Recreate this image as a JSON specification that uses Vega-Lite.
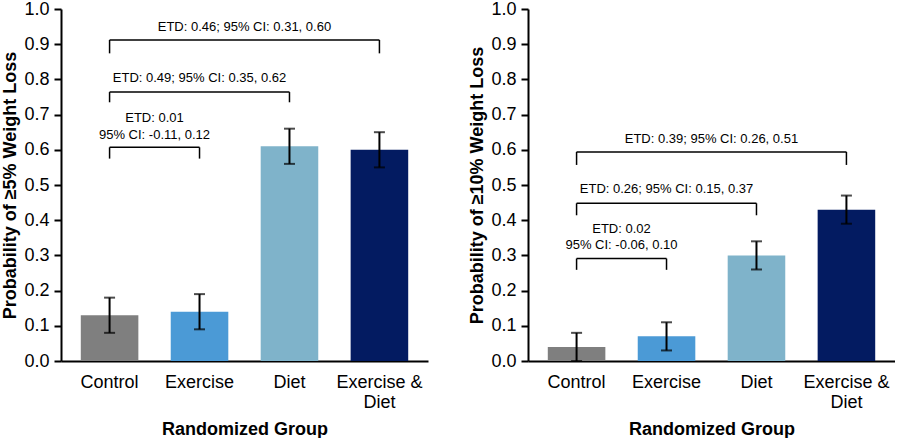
{
  "$schema": "https://vega.github.io/schema/vega-lite/v6.json",
  "background": "white",
  "padding": {"left": 1, "top": 0, "right": 0, "bottom": 0},
  "config": {
    "font": "Liberation Sans",
    "view": {"stroke": null},
    "axis": {"grid": false, "domainColor": "black", "domainWidth": 2, "tickColor": "black", "tickWidth": 2, "labelColor": "black", "titleColor": "black", "labelFontSize": 18, "titleFontSize": 18, "titleFontWeight": "bold", "labelFont": "Liberation Sans", "titleFont": "Liberation Sans", "labelOverlap": false, "labelFlush": false},
    "axisY": {"format": ".1f", "tickSize": 7, "labelPadding": 5, "titlePadding": 4, "values": [0, 0.1, 0.2, 0.3, 0.4, 0.5, 0.6, 0.7, 0.8, 0.9, 1.0]}
  },
  "datasets": {
    "bars": [
      {"panel": "p5", "group": "Control", "p": 0.13, "lo": 0.08, "hi": 0.18},
      {"panel": "p5", "group": "Exercise", "p": 0.14, "lo": 0.09, "hi": 0.19},
      {"panel": "p5", "group": "Diet", "p": 0.61, "lo": 0.56, "hi": 0.66},
      {"panel": "p5", "group": "Exercise & Diet", "p": 0.60, "lo": 0.55, "hi": 0.65},
      {"panel": "p10", "group": "Control", "p": 0.04, "lo": 0.00, "hi": 0.08},
      {"panel": "p10", "group": "Exercise", "p": 0.07, "lo": 0.03, "hi": 0.11},
      {"panel": "p10", "group": "Diet", "p": 0.30, "lo": 0.26, "hi": 0.34},
      {"panel": "p10", "group": "Exercise & Diet", "p": 0.43, "lo": 0.39, "hi": 0.47}
    ],
    "brackets": [
      {"panel": "p5", "from": "Control", "to": "Exercise", "level": 0.607},
      {"panel": "p5", "from": "Control", "to": "Diet", "level": 0.764},
      {"panel": "p5", "from": "Control", "to": "Exercise & Diet", "level": 0.912},
      {"panel": "p10", "from": "Control", "to": "Exercise", "level": 0.291},
      {"panel": "p10", "from": "Control", "to": "Diet", "level": 0.448},
      {"panel": "p10", "from": "Control", "to": "Exercise & Diet", "level": 0.594}
    ],
    "ends": [
      {"panel": "p5", "group": "Control", "top": 0.607, "bottom": 0.575},
      {"panel": "p5", "group": "Exercise", "top": 0.607, "bottom": 0.575},
      {"panel": "p5", "group": "Control", "top": 0.764, "bottom": 0.735},
      {"panel": "p5", "group": "Diet", "top": 0.764, "bottom": 0.735},
      {"panel": "p5", "group": "Control", "top": 0.912, "bottom": 0.874},
      {"panel": "p5", "group": "Exercise & Diet", "top": 0.912, "bottom": 0.874},
      {"panel": "p10", "group": "Control", "top": 0.291, "bottom": 0.259},
      {"panel": "p10", "group": "Exercise", "top": 0.291, "bottom": 0.259},
      {"panel": "p10", "group": "Control", "top": 0.448, "bottom": 0.414},
      {"panel": "p10", "group": "Diet", "top": 0.448, "bottom": 0.414},
      {"panel": "p10", "group": "Control", "top": 0.594, "bottom": 0.557},
      {"panel": "p10", "group": "Exercise & Diet", "top": 0.594, "bottom": 0.557}
    ],
    "labelsMid": [
      {"panel": "p5", "at": "Exercise", "y": 0.805, "label": "ETD: 0.49; 95% CI: 0.35, 0.62"},
      {"panel": "p10", "at": "Exercise", "y": 0.49, "label": "ETD: 0.26; 95% CI: 0.15, 0.37"}
    ],
    "labelsHalf": [
      {"panel": "p5", "at": "Control", "y": 0.69, "label": "ETD: 0.01"},
      {"panel": "p5", "at": "Control", "y": 0.643, "label": "95% CI: -0.11, 0.12"},
      {"panel": "p5", "at": "Exercise", "y": 0.949, "label": "ETD: 0.46; 95% CI: 0.31, 0.60"},
      {"panel": "p10", "at": "Control", "y": 0.376, "label": "ETD: 0.02"},
      {"panel": "p10", "at": "Control", "y": 0.33, "label": "95% CI: -0.06, 0.10"},
      {"panel": "p10", "at": "Exercise", "y": 0.632, "label": "ETD: 0.39; 95% CI: 0.26, 0.51"}
    ]
  },
  "spacing": 40,
  "hconcat": [
    {
      "width": 367,
      "height": 352,
      "encoding": {
        "x": {"field": "group", "type": "nominal", "sort": ["Control", "Exercise", "Diet", "Exercise & Diet"],
          "scale": {"domain": ["Control", "Exercise", "Diet", "Exercise & Diet"], "paddingInner": 0.36, "paddingOuter": 0.22},
          "axis": {"title": "Randomized Group", "labelAngle": 0, "ticks": false, "labelPadding": 12, "labelLineHeight": 20, "titlePadding": 9,
            "labelExpr": "datum.label == 'Exercise & Diet' ? ['Exercise &', 'Diet'] : datum.label"}}
      },
      "layer": [
        {
          "data": {"name": "bars"},
          "transform": [{"filter": "datum.panel == 'p5'"}],
          "mark": {"type": "bar"},
          "encoding": {
            "y": {"field": "p", "type": "quantitative", "scale": {"domain": [0, 1], "nice": false, "zero": true},
              "axis": {"title": "Probability of ≥5% Weight Loss", "values": [0, 0.1, 0.2, 0.3, 0.4, 0.5, 0.6, 0.7, 0.8, 0.9, 1.0]}},
            "color": {"field": "group", "type": "nominal", "legend": null,
              "scale": {"domain": ["Control", "Exercise", "Diet", "Exercise & Diet"], "range": ["#7f7f7f", "#4b9ad6", "#7fb3ca", "#031b61"]}}
          }
        },
        {
          "data": {"name": "bars"},
          "transform": [{"filter": "datum.panel == 'p5'"}],
          "mark": {"type": "rule", "color": "black", "strokeWidth": 2},
          "encoding": {"y": {"field": "lo", "type": "quantitative", "axis": {"title": "Probability of ≥5% Weight Loss", "values": [0, 0.1, 0.2, 0.3, 0.4, 0.5, 0.6, 0.7, 0.8, 0.9, 1.0]}}, "y2": {"field": "hi"}}
        },
        {
          "data": {"name": "bars"},
          "transform": [{"filter": "datum.panel == 'p5'"}],
          "mark": {"type": "tick", "color": "black", "size": 11, "thickness": 2},
          "encoding": {"y": {"field": "lo", "type": "quantitative", "axis": {"title": "Probability of ≥5% Weight Loss", "values": [0, 0.1, 0.2, 0.3, 0.4, 0.5, 0.6, 0.7, 0.8, 0.9, 1.0]}}}
        },
        {
          "data": {"name": "bars"},
          "transform": [{"filter": "datum.panel == 'p5'"}],
          "mark": {"type": "tick", "color": "black", "size": 11, "thickness": 2},
          "encoding": {"y": {"field": "hi", "type": "quantitative", "axis": {"title": "Probability of ≥5% Weight Loss", "values": [0, 0.1, 0.2, 0.3, 0.4, 0.5, 0.6, 0.7, 0.8, 0.9, 1.0]}}}
        },
        {
          "data": {"name": "brackets"},
          "transform": [{"filter": "datum.panel == 'p5'"}],
          "mark": {"type": "rule", "color": "black", "strokeWidth": 1.5},
          "encoding": {"x": {"field": "from", "type": "nominal"}, "x2": {"field": "to"}, "y": {"field": "level", "type": "quantitative", "axis": {"title": "Probability of ≥5% Weight Loss", "values": [0, 0.1, 0.2, 0.3, 0.4, 0.5, 0.6, 0.7, 0.8, 0.9, 1.0]}}}
        },
        {
          "data": {"name": "ends"},
          "transform": [{"filter": "datum.panel == 'p5'"}],
          "mark": {"type": "rule", "color": "black", "strokeWidth": 1.5},
          "encoding": {"y": {"field": "top", "type": "quantitative", "axis": {"title": "Probability of ≥5% Weight Loss", "values": [0, 0.1, 0.2, 0.3, 0.4, 0.5, 0.6, 0.7, 0.8, 0.9, 1.0]}}, "y2": {"field": "bottom"}}
        },
        {
          "data": {"name": "labelsMid"},
          "transform": [{"filter": "datum.panel == 'p5'"}],
          "mark": {"type": "text", "fontSize": 13, "color": "black", "baseline": "middle", "align": "center"},
          "encoding": {"x": {"field": "at", "type": "nominal"}, "y": {"field": "y", "type": "quantitative", "axis": {"title": "Probability of ≥5% Weight Loss", "values": [0, 0.1, 0.2, 0.3, 0.4, 0.5, 0.6, 0.7, 0.8, 0.9, 1.0]}}, "text": {"field": "label"}}
        },
        {
          "data": {"name": "labelsHalf"},
          "transform": [{"filter": "datum.panel == 'p5'"}],
          "mark": {"type": "text", "fontSize": 13, "color": "black", "baseline": "middle", "align": "center"},
          "encoding": {"x": {"field": "at", "type": "nominal", "bandPosition": 1.28}, "y": {"field": "y", "type": "quantitative", "axis": {"title": "Probability of ≥5% Weight Loss", "values": [0, 0.1, 0.2, 0.3, 0.4, 0.5, 0.6, 0.7, 0.8, 0.9, 1.0]}}, "text": {"field": "label"}}
        }
      ]
    },
    {
      "width": 367,
      "height": 352,
      "encoding": {
        "x": {"field": "group", "type": "nominal", "sort": ["Control", "Exercise", "Diet", "Exercise & Diet"],
          "scale": {"domain": ["Control", "Exercise", "Diet", "Exercise & Diet"], "paddingInner": 0.36, "paddingOuter": 0.22},
          "axis": {"title": "Randomized Group", "labelAngle": 0, "ticks": false, "labelPadding": 12, "labelLineHeight": 20, "titlePadding": 9,
            "labelExpr": "datum.label == 'Exercise & Diet' ? ['Exercise &', 'Diet'] : datum.label"}}
      },
      "layer": [
        {
          "data": {"name": "bars"},
          "transform": [{"filter": "datum.panel == 'p10'"}],
          "mark": {"type": "bar"},
          "encoding": {
            "y": {"field": "p", "type": "quantitative", "scale": {"domain": [0, 1], "nice": false, "zero": true},
              "axis": {"title": "Probability of ≥10% Weight Loss", "values": [0, 0.1, 0.2, 0.3, 0.4, 0.5, 0.6, 0.7, 0.8, 0.9, 1.0]}},
            "color": {"field": "group", "type": "nominal", "legend": null,
              "scale": {"domain": ["Control", "Exercise", "Diet", "Exercise & Diet"], "range": ["#7f7f7f", "#4b9ad6", "#7fb3ca", "#031b61"]}}
          }
        },
        {
          "data": {"name": "bars"},
          "transform": [{"filter": "datum.panel == 'p10'"}],
          "mark": {"type": "rule", "color": "black", "strokeWidth": 2},
          "encoding": {"y": {"field": "lo", "type": "quantitative", "axis": {"title": "Probability of ≥10% Weight Loss", "values": [0, 0.1, 0.2, 0.3, 0.4, 0.5, 0.6, 0.7, 0.8, 0.9, 1.0]}}, "y2": {"field": "hi"}}
        },
        {
          "data": {"name": "bars"},
          "transform": [{"filter": "datum.panel == 'p10'"}],
          "mark": {"type": "tick", "color": "black", "size": 11, "thickness": 2},
          "encoding": {"y": {"field": "lo", "type": "quantitative", "axis": {"title": "Probability of ≥10% Weight Loss", "values": [0, 0.1, 0.2, 0.3, 0.4, 0.5, 0.6, 0.7, 0.8, 0.9, 1.0]}}}
        },
        {
          "data": {"name": "bars"},
          "transform": [{"filter": "datum.panel == 'p10'"}],
          "mark": {"type": "tick", "color": "black", "size": 11, "thickness": 2},
          "encoding": {"y": {"field": "hi", "type": "quantitative", "axis": {"title": "Probability of ≥10% Weight Loss", "values": [0, 0.1, 0.2, 0.3, 0.4, 0.5, 0.6, 0.7, 0.8, 0.9, 1.0]}}}
        },
        {
          "data": {"name": "brackets"},
          "transform": [{"filter": "datum.panel == 'p10'"}],
          "mark": {"type": "rule", "color": "black", "strokeWidth": 1.5},
          "encoding": {"x": {"field": "from", "type": "nominal"}, "x2": {"field": "to"}, "y": {"field": "level", "type": "quantitative", "axis": {"title": "Probability of ≥10% Weight Loss", "values": [0, 0.1, 0.2, 0.3, 0.4, 0.5, 0.6, 0.7, 0.8, 0.9, 1.0]}}}
        },
        {
          "data": {"name": "ends"},
          "transform": [{"filter": "datum.panel == 'p10'"}],
          "mark": {"type": "rule", "color": "black", "strokeWidth": 1.5},
          "encoding": {"y": {"field": "top", "type": "quantitative", "axis": {"title": "Probability of ≥10% Weight Loss", "values": [0, 0.1, 0.2, 0.3, 0.4, 0.5, 0.6, 0.7, 0.8, 0.9, 1.0]}}, "y2": {"field": "bottom"}}
        },
        {
          "data": {"name": "labelsMid"},
          "transform": [{"filter": "datum.panel == 'p10'"}],
          "mark": {"type": "text", "fontSize": 13, "color": "black", "baseline": "middle", "align": "center"},
          "encoding": {"x": {"field": "at", "type": "nominal"}, "y": {"field": "y", "type": "quantitative", "axis": {"title": "Probability of ≥10% Weight Loss", "values": [0, 0.1, 0.2, 0.3, 0.4, 0.5, 0.6, 0.7, 0.8, 0.9, 1.0]}}, "text": {"field": "label"}}
        },
        {
          "data": {"name": "labelsHalf"},
          "transform": [{"filter": "datum.panel == 'p10'"}],
          "mark": {"type": "text", "fontSize": 13, "color": "black", "baseline": "middle", "align": "center"},
          "encoding": {"x": {"field": "at", "type": "nominal", "bandPosition": 1.28}, "y": {"field": "y", "type": "quantitative", "axis": {"title": "Probability of ≥10% Weight Loss", "values": [0, 0.1, 0.2, 0.3, 0.4, 0.5, 0.6, 0.7, 0.8, 0.9, 1.0]}}, "text": {"field": "label"}}
        }
      ]
    }
  ]
}
